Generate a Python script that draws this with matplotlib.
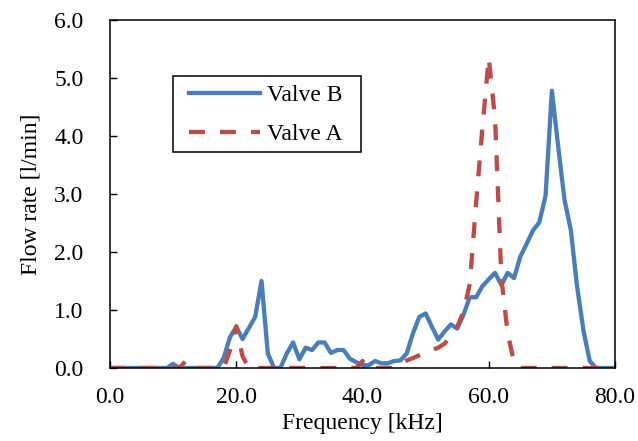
import numpy as np
import matplotlib
matplotlib.use("Agg")
import matplotlib.pyplot as plt
from matplotlib.patches import Rectangle
from matplotlib.ticker import FormatStrFormatter

# frequency in kHz, one point per kHz
freq = np.arange(0, 81)

valve_b = [0, 0, 0, 0, 0, 0, 0, 0, 0, 0,
           0.07, 0, 0, 0, 0, 0, 0, 0, 0.17, 0.53,
           0.71, 0.50, 0.69, 0.88, 1.50, 0.25, 0, 0, 0.25, 0.44,
           0.15, 0.35, 0.31, 0.44, 0.44, 0.26, 0.31, 0.31, 0.16, 0.10,
           0.05, 0.05, 0.12, 0.08, 0.08, 0.12, 0.13, 0.25, 0.60, 0.88,
           0.94, 0.71, 0.49, 0.63, 0.75, 0.68, 0.92, 1.22, 1.22, 1.41,
           1.53, 1.64, 1.43, 1.64, 1.55, 1.92, 2.14, 2.37, 2.51, 2.97,
           4.78, 3.82, 2.90, 2.38, 1.40, 0.65, 0.12, 0, 0, 0,
           0]

valve_a = [0, 0, 0, 0, 0, 0, 0, 0, 0, 0,
           0, 0, 0.12, 0, 0, 0, 0, 0, 0, 0.30,
           0.72, 0.20, 0, 0, 0, 0, 0, 0, 0, 0,
           0, 0, 0, 0, 0, 0, 0, 0, 0, 0,
           0.12, 0, 0, 0, 0, 0, 0.07, 0.13, 0.17, 0.22,
           0.27, 0.31, 0.35, 0.42, 0.55, 0.71, 0.97, 1.45, 2.85, 4.15,
           5.35, 4.30, 1.55, 0.60, 0.10, 0, 0, 0, 0, 0,
           0, 0, 0, 0, 0, 0, 0, 0, 0, 0,
           0]

plt.rcParams['font.family'] = 'Liberation Serif'
plt.rcParams['font.size'] = 17

fig = plt.figure(figsize=(6.38, 4.41), dpi=100)
ax = fig.add_axes([110/638, 1 - 368/441, 505/638, 348/441])

ax.plot(freq, valve_b, color='#4A7EBB', lw=3.1, label='Valve B',
        solid_joinstyle='round')
ax.plot(freq, valve_a, color='#BE4B48', lw=3.1, label='Valve A',
        dashes=(3.7, 3.5), dash_capstyle='butt')

ax.set_xlim(0, 80)
ax.set_ylim(0, 6)
ax.set_xticks([0, 20, 40, 60, 80])
ax.set_yticks(np.arange(0, 6.1, 1.0))
ax.xaxis.set_major_formatter(FormatStrFormatter('%.1f'))
ax.yaxis.set_major_formatter(FormatStrFormatter('%.1f'))
ax.tick_params(direction='in', length=5, width=1, color='black')
ax.tick_params(axis='y', pad=19)
ax.tick_params(axis='x', pad=14)
for s in ax.spines.values():
    s.set_linewidth(1.1)
    s.set_color('black')

ax.set_xlabel('Frequency [kHz]', labelpad=3.5)
ax.set_ylabel('Flow rate [l/min]', labelpad=9)

# legend without its own frame, box drawn separately (Excel-like padding)
leg = ax.legend(loc='upper left', bbox_to_anchor=(79/505, 0.815),
                borderaxespad=0, borderpad=0, handlelength=3.0,
                handletextpad=0.3, labelspacing=0.75, frameon=False)
ax.add_patch(Rectangle((63/505, 0.6207), 188/505, 0.839 - 0.6207,
                       transform=ax.transAxes, fill=False, lw=1.1,
                       edgecolor='black', zorder=5))

fig.savefig('out.png', dpi=100)
